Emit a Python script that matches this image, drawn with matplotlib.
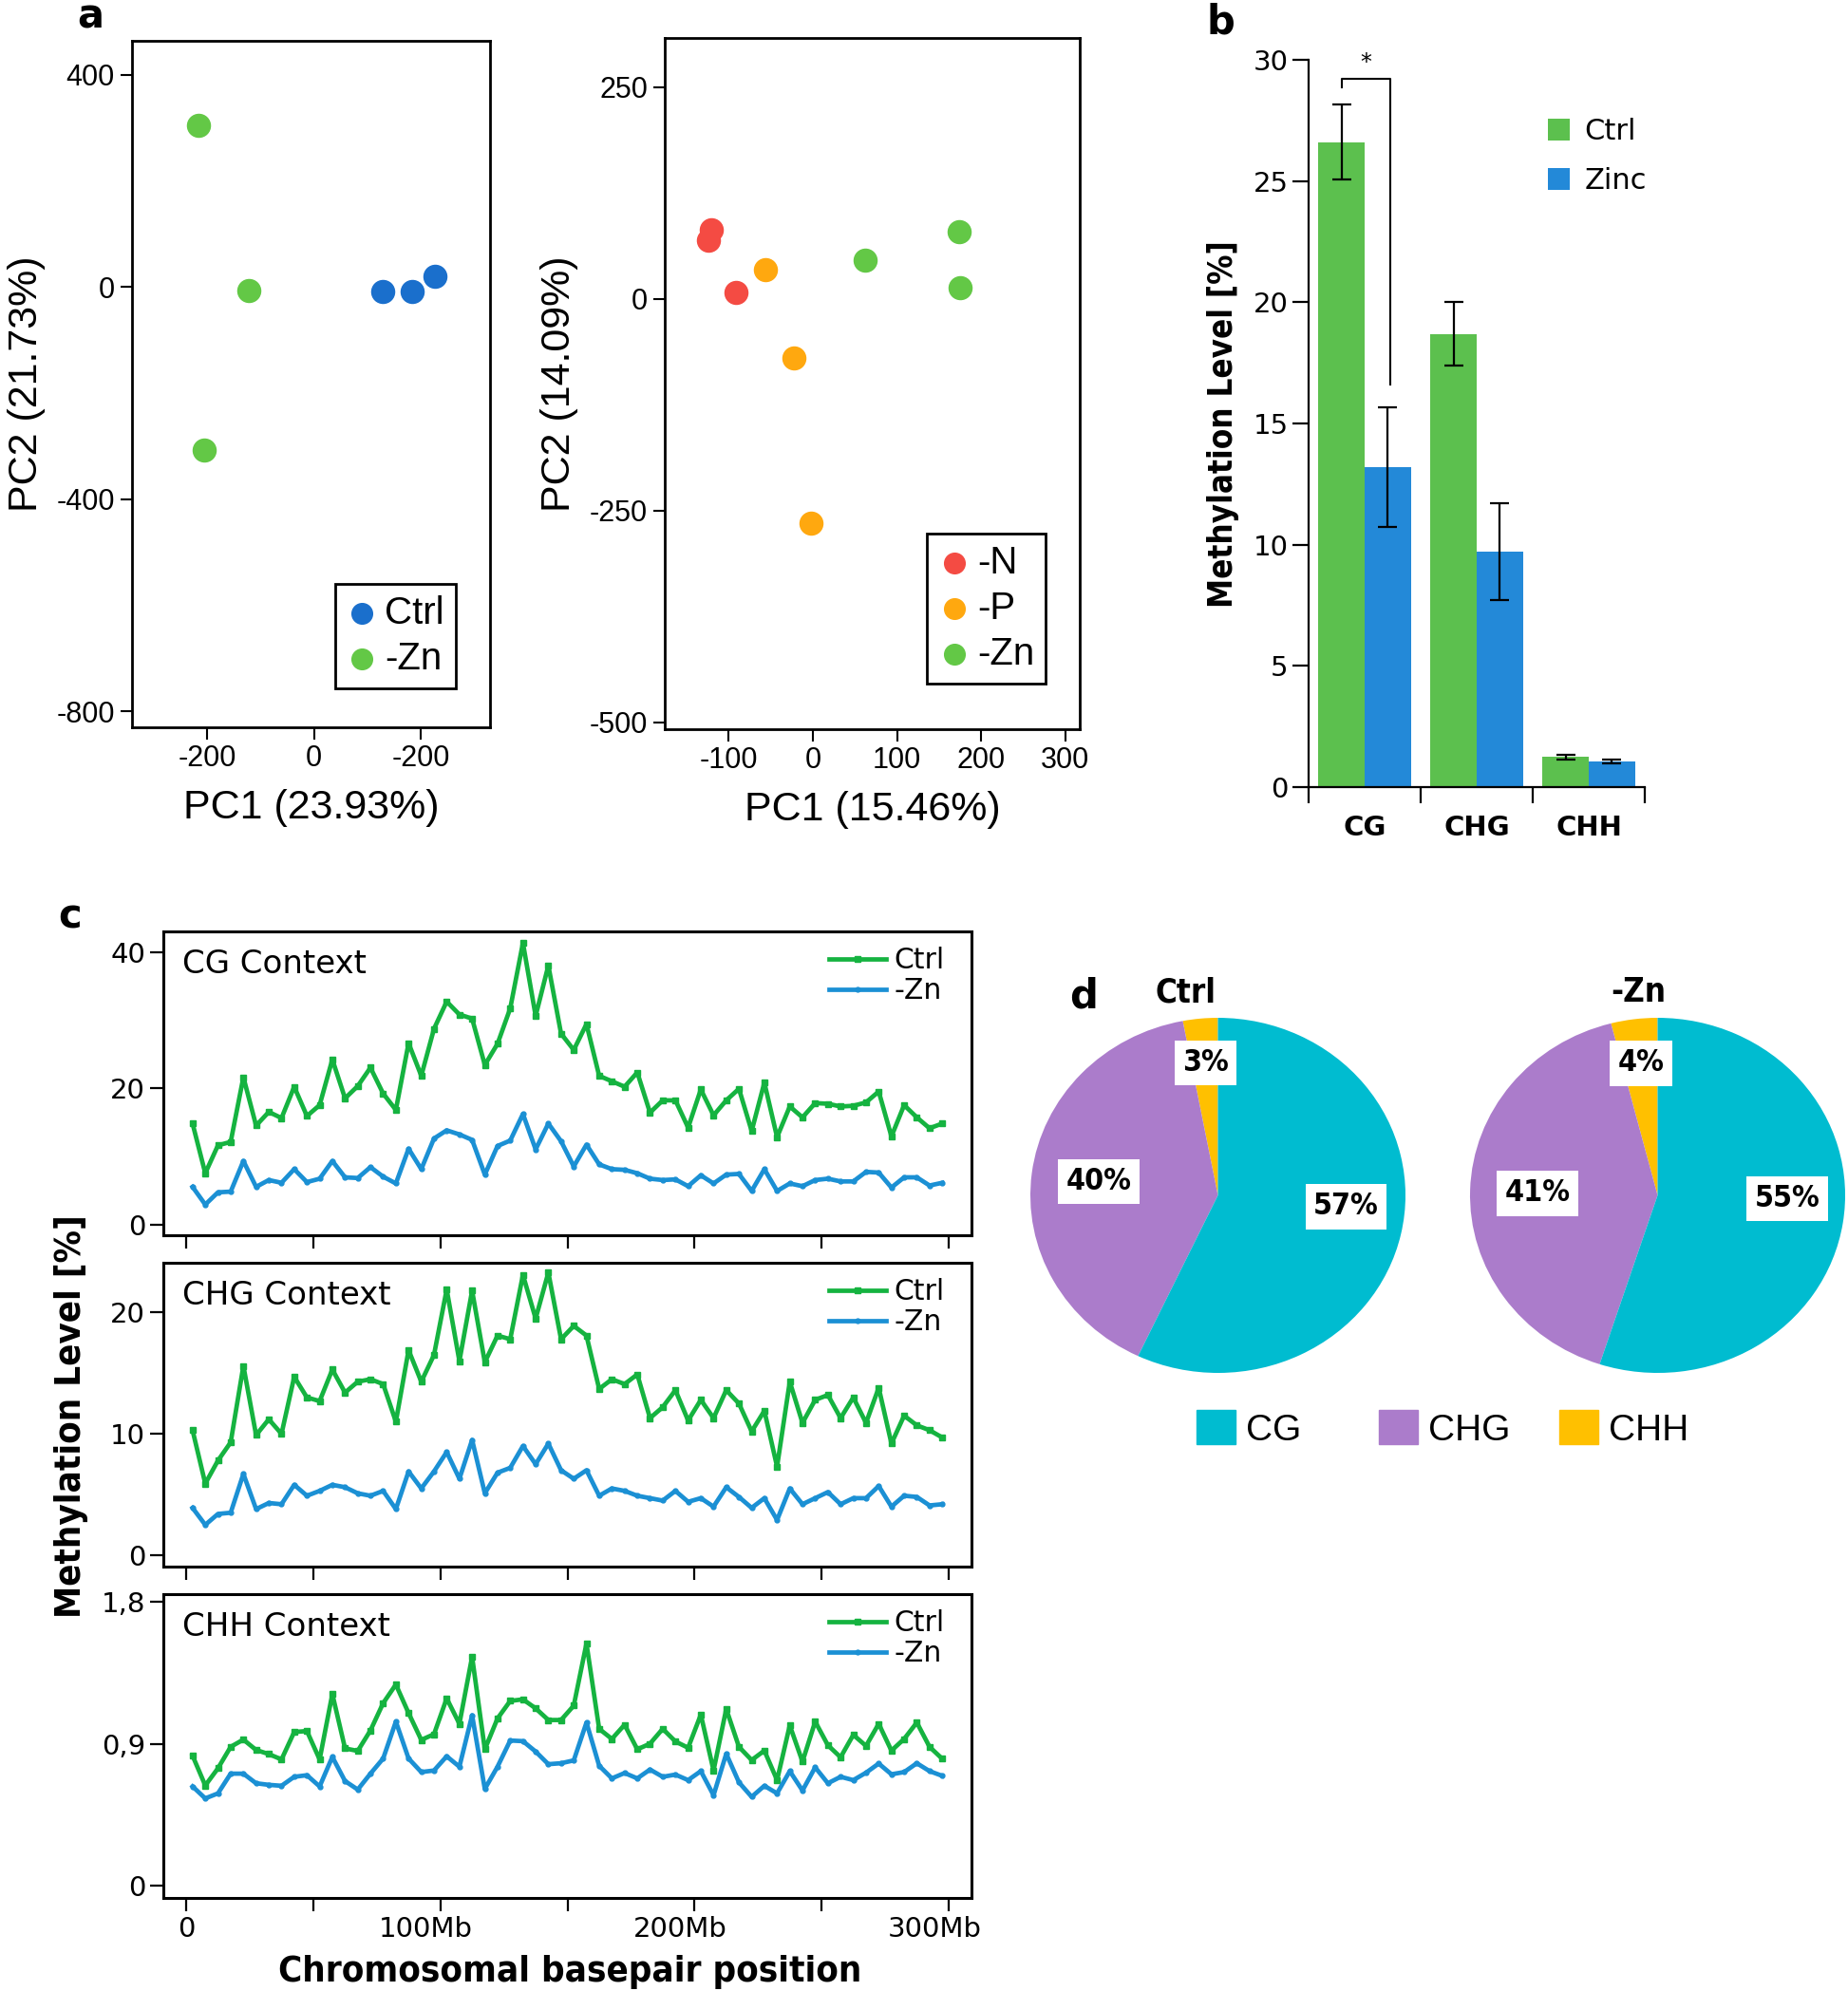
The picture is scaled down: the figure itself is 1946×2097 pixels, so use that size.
import numpy as np
import matplotlib
matplotlib.use("Agg")
import matplotlib.pyplot as plt
from matplotlib.patches import Patch
from matplotlib.transforms import ScaledTranslation

plt.rcParams["axes.unicode_minus"] = False

# ---- panel a: PCA scores ----
pca1_ctrl_x = [128, 184, 226]
pca1_ctrl_y = [-9, -9, 20]
pca1_zn_x = [-216, -122, -206]
pca1_zn_y = [304, -6, -308]

pca2_n_x = [-121, -124, -91]
pca2_n_y = [82, 69, 8]
pca2_p_x = [-56, -23, -2]
pca2_p_y = [34, -70, -265]
pca2_zn_x = [62, 174, 175]
pca2_zn_y = [46, 79, 13]

# ---- panel b: global methylation ----
contexts = ["CG", "CHG", "CHH"]
bar_ctrl = [26.6, 18.7, 1.25]
bar_ctrl_err = [1.55, 1.3, 0.1]
bar_zinc = [13.2, 9.7, 1.05]
bar_zinc_err = [2.45, 2.0, 0.08]

# ---- panel c: methylation along chromosome (5 Mb bins) ----
bin_mb = np.arange(2.5, 300, 5)
cg_ctrl = [14.8, 7.5, 11.6, 12.1, 21.6, 14.5, 16.5, 15.6, 20.2, 15.9,
           17.5, 24.2, 18.5, 20.3, 23.0, 19.2, 16.8, 26.6, 21.8, 28.7,
           32.7, 30.8, 30.2, 23.4, 26.5, 31.7, 41.3, 30.6, 38.0, 28.0,
           25.6, 29.4, 21.8, 21.0, 20.2, 22.3, 16.4, 18.2, 18.2, 14.2,
           19.8, 16.0, 18.2, 19.9, 13.7, 20.8, 12.8, 17.3, 15.7, 17.8,
           17.7, 17.3, 17.4, 17.9, 19.5, 12.9, 17.5, 15.7, 14.1, 14.8]
cg_zn = [5.5, 2.9, 4.7, 4.8, 9.3, 5.5, 6.5, 6.1, 8.1, 6.2,
         6.7, 9.3, 6.9, 6.8, 8.4, 7.0, 6.0, 11.1, 8.1, 12.6,
         13.8, 13.2, 12.4, 7.3, 11.5, 12.3, 16.2, 11.0, 14.8, 12.2,
         8.5, 11.7, 8.8, 8.1, 8.0, 7.5, 6.7, 6.5, 6.6, 5.6,
         7.2, 6.0, 7.3, 7.4, 4.9, 8.1, 4.9, 6.0, 5.6, 6.5,
         6.7, 6.3, 6.3, 7.7, 7.6, 5.4, 6.9, 6.9, 5.7, 6.1]
chg_ctrl = [10.3, 5.9, 7.8, 9.3, 15.6, 9.9, 11.2, 10.0, 14.7, 13.0,
            12.7, 15.3, 13.4, 14.3, 14.5, 14.1, 11.0, 16.9, 14.3, 16.5,
            21.9, 16.0, 21.8, 15.9, 18.1, 17.8, 23.1, 19.5, 23.3, 17.8,
            18.9, 18.1, 13.7, 14.5, 14.1, 14.9, 11.3, 12.2, 13.6, 11.1,
            12.8, 11.3, 13.6, 12.5, 10.2, 11.9, 7.3, 14.3, 10.9, 12.8,
            13.2, 11.3, 13.0, 10.9, 13.8, 9.2, 11.5, 10.7, 10.3, 9.7]
chg_zn = [3.9, 2.5, 3.4, 3.5, 6.7, 3.8, 4.3, 4.2, 5.8, 4.9,
          5.3, 5.8, 5.6, 5.1, 4.9, 5.3, 3.8, 6.9, 5.5, 6.9,
          8.5, 6.3, 9.5, 5.1, 6.8, 7.2, 9.0, 7.5, 9.2, 7.0,
          6.3, 7.0, 4.9, 5.5, 5.3, 4.9, 4.7, 4.5, 5.3, 4.4,
          4.7, 4.0, 5.6, 4.8, 3.9, 4.7, 2.9, 5.5, 4.2, 4.7,
          5.2, 4.2, 4.7, 4.7, 5.7, 4.0, 4.9, 4.8, 4.1, 4.2]
chh_ctrl = [0.826, 0.637, 0.746, 0.882, 0.928, 0.862, 0.836, 0.802, 0.976, 0.982,
            0.802, 1.217, 0.872, 0.856, 0.986, 1.159, 1.277, 1.096, 0.926, 0.962,
            1.189, 1.028, 1.453, 0.866, 1.062, 1.173, 1.183, 1.126, 1.052, 1.052,
            1.143, 1.537, 0.996, 0.932, 1.022, 0.866, 0.902, 0.996, 0.916, 0.876,
            1.086, 0.732, 1.122, 0.882, 0.798, 0.858, 0.671, 1.018, 0.788, 1.042,
            0.892, 0.816, 0.958, 0.888, 1.028, 0.858, 0.932, 1.036, 0.882, 0.806]
chh_zn = [0.631, 0.555, 0.587, 0.712, 0.712, 0.651, 0.641, 0.635, 0.692, 0.702,
          0.631, 0.818, 0.665, 0.611, 0.712, 0.808, 1.042, 0.808, 0.722, 0.732,
          0.822, 0.756, 1.082, 0.615, 0.756, 0.922, 0.918, 0.852, 0.772, 0.778,
          0.796, 1.036, 0.762, 0.682, 0.716, 0.682, 0.738, 0.692, 0.706, 0.671,
          0.728, 0.575, 0.838, 0.657, 0.565, 0.635, 0.587, 0.728, 0.605, 0.752,
          0.651, 0.692, 0.671, 0.718, 0.776, 0.708, 0.722, 0.778, 0.728, 0.698]

# ---- panel d: context share ----
pie_labels = ["CHH", "CHG", "CG"]
pie_ctrl = [3, 40, 57]
pie_zn = [4, 41, 55]

W, H = 1946, 2097
fig = plt.figure(figsize=(W / 100, H / 100), dpi=100)


def box(x0, y0, x1, y1):
    return [x0 / W, 1 - y1 / H, (x1 - x0) / W, (y1 - y0) / H]


SANS = "Liberation Sans"
COND = dict(family="DejaVu Sans", stretch="condensed", weight="bold")
c_blue, c_green, c_red, c_orange = "#1a6fcc", "#63c846", "#f44b43", "#ffa80f"


def pca_axes(ax):
    for s in ax.spines.values():
        s.set_linewidth(2)
    ax.tick_params(length=9, width=1.5, labelsize=22, pad=4)
    for lab in ax.get_xticklabels() + ax.get_yticklabels():
        lab.set_family(SANS)


def pca_legend(ax, anchor):
    leg = ax.legend(loc="lower right", bbox_to_anchor=anchor, fancybox=False,
                    edgecolor="black", framealpha=1, prop={"family": SANS, "size": 29},
                    handlelength=0.8, handletextpad=0.2, borderpad=0.3,
                    labelspacing=0.25, markerscale=0.9, borderaxespad=0)
    leg.get_frame().set_linewidth(2)


# a, left
ax = fig.add_axes(box(139, 43, 516, 766))
ax.scatter(pca1_ctrl_x, pca1_ctrl_y, s=300, color=c_blue, label="Ctrl", zorder=3)
ax.scatter(pca1_zn_x, pca1_zn_y, s=300, color=c_green, label="-Zn", zorder=3)
ax.set_xlim(-341, 330)
ax.set_ylim(-830, 464)
ax.set_xticks([-200, 0, 200], ["-200", "0", "-200"])
ax.set_yticks([400, 0, -400, -800])
pca_axes(ax)
ax.set_xlabel("PC1 (23.93%)", family=SANS, fontsize=31, labelpad=12)
ax.set_ylabel("PC2 (21.73%)", family=SANS, fontsize=31, labelpad=8)
pca_legend(ax, (0.905, 0.057))

# a, right
ax = fig.add_axes(box(700, 40, 1137, 768))
ax.scatter(pca2_n_x, pca2_n_y, s=300, color=c_red, label="-N", zorder=3)
ax.scatter(pca2_p_x, pca2_p_y, s=300, color=c_orange, label="-P", zorder=3)
ax.scatter(pca2_zn_x, pca2_zn_y, s=300, color=c_green, label="-Zn", zorder=3)
ax.set_xlim(-176, 317)
ax.set_ylim(-508, 308)
ax.set_xticks([-100, 0, 100, 200, 300])
ax.set_yticks([250, 0, -250, -500])
pca_axes(ax)
ax.set_xlabel("PC1 (15.46%)", family=SANS, fontsize=31, labelpad=12)
ax.set_ylabel("PC2 (14.09%)", family=SANS, fontsize=31, labelpad=8)
pca_legend(ax, (0.918, 0.066))

# b
ax = fig.add_axes(box(1378, 63, 1732, 829))
xpos = np.arange(len(contexts))
bw = 0.413
ekw = dict(elinewidth=1.6, capthick=1.6, ecolor="black")
ax.bar(xpos - bw / 2, bar_ctrl, bw, yerr=bar_ctrl_err, capsize=7, error_kw=ekw,
       color="#5cc04e", label="Ctrl")
ax.bar(xpos + bw / 2, bar_zinc, bw, yerr=bar_zinc_err, capsize=7, error_kw=ekw,
       color="#2389d8", label="Zinc")
ax.set_xlim(-0.5, 2.5)
ax.set_ylim(0, 30)
ax.spines[["top", "right"]].set_visible(False)
ax.spines[["left", "bottom"]].set_linewidth(1.6)
ax.set_xticks([-0.5, 0.5, 1.5, 2.5], [])
ax.set_xticks(xpos, contexts, minor=True)
ax.tick_params(axis="x", which="major", length=12, width=1.6)
ax.tick_params(axis="x", which="minor", length=0, pad=21, labelsize=21)
for lab in ax.get_xticklabels(minor=True):
    lab.set_fontweight("bold")
ax.set_yticks(range(0, 31, 5))
ax.tick_params(axis="y", length=12, width=1.6, labelsize=21)
# significance bracket
bx0, bx1 = -bw / 2, bw / 2 + 0.02
ax.plot([bx0, bx0, bx1, bx1], [28.85, 29.2, 29.2, 16.6], color="black", lw=1.5)
ax.text((bx0 + bx1) / 2, 29.4, "*", ha="center", va="bottom", fontsize=17)
ax.legend(loc="upper left", bbox_to_anchor=(0.67, 0.94), frameon=False, fontsize=22,
          handlelength=0.75, handleheight=0.75, handletextpad=0.5, labelspacing=0.75,
          borderpad=0)
fig.text(1288 / W, 1 - 447 / H, "Methylation Level [%]", rotation=90, ha="center",
         va="center", fontsize=25, **COND)

# c
g_line, b_line = "#15b340", "#1b90d4"
c_panels = [
    ("CG Context", cg_ctrl, cg_zn, (-1.6, 43.0), [0, 20, 40], ["0", "20", "40"], (981, 1301)),
    ("CHG Context", chg_ctrl, chg_zn, (-0.94, 24.1), [0, 10, 20], ["0", "10", "20"], (1330, 1650)),
    ("CHH Context", chh_ctrl, chh_zn, (-0.076, 1.85), [0, 0.9, 1.8], ["0", "0,9", "1,8"], (1679, 1999)),
]
shift_left = ScaledTranslation(-15 / 100, 0, fig.dpi_scale_trans)
for i, (title, yc, yz, ylim, yt, ytl, (top, bot)) in enumerate(c_panels):
    ax = fig.add_axes(box(172, top, 1023, bot))
    ax.plot(bin_mb, yc, color=g_line, lw=3.4, marker="s", ms=3.8, label="Ctrl")
    ax.plot(bin_mb, yz, color=b_line, lw=3.4, marker="o", ms=3.5, label="-Zn")
    ax.set_xlim(-9.0, 309)
    ax.set_ylim(*ylim)
    ax.set_yticks(yt, ytl)
    xl = ["0", "", "100Mb", "", "200Mb", "", "300Mb"] if i == 2 else [""] * 7
    ax.set_xticks(range(0, 301, 50), xl)
    ax.tick_params(length=10, width=1.6, labelsize=21)
    if i == 2:
        for lab in ax.get_xticklabels()[1:]:
            lab.set_transform(lab.get_transform() + shift_left)
    for s in ax.spines.values():
        s.set_linewidth(2.2)
    ax.text(0.0235, 0.945, title, transform=ax.transAxes, ha="left", va="top",
            fontsize=24.5)
    ax.legend(loc="upper right", bbox_to_anchor=(0.967, 0.95), frameon=False,
              fontsize=21.5, handlelength=2.0, handletextpad=0.3, labelspacing=0.1,
              borderpad=0, borderaxespad=0)
fig.text(75 / W, 1 - 1492 / H, "Methylation Level [%]", rotation=90, ha="center",
         va="center", fontsize=27.5, **COND)
fig.text(600 / W, 1 - 2077 / H, "Chromosomal basepair position", ha="center",
         va="center", fontsize=27.5, **COND)

# d
pie_colors = ["#ffc000", "#ab7ccb", "#00bcd0"]
label_nudge = [(0, 0.05), (0.06, -0.01), (0, 0.09)]
for vals, title, (x0, x1), tx in [(pie_ctrl, "Ctrl", (1085, 1480), 1249),
                                  (pie_zn, "-Zn", (1548, 1943), 1725)]:
    ax = fig.add_axes(box(x0, 1072, x1, 1446))
    wedges, _, autotexts = ax.pie(vals, colors=pie_colors, startangle=90, counterclock=True,
                                  autopct=lambda p: f"{p:.0f}%", pctdistance=0.7,
                                  wedgeprops=dict(linewidth=0))
    for t, (dx, dy) in zip(autotexts, label_nudge):
        px, py = t.get_position()
        t.set_position((px + dx, py + dy))
        t.set_fontsize(23)
        t.set(**COND)
        t.set_bbox(dict(facecolor="white", edgecolor="none", pad=6))
    ax.set_aspect("auto")
    ax.set_xlim(-1, 1)
    ax.set_ylim(-1, 1)
    fig.text(tx / W, 1 - 1045 / H, title, ha="center", va="center", fontsize=25, **COND)

for lab, col, lx in zip(pie_labels, pie_colors, [1642, 1452, 1260]):
    fig.legend([Patch(color=col)], [lab], loc="center left", bbox_to_anchor=(lx / W, 1 - 1505 / H),
               frameon=False, prop={"family": SANS, "size": 28},
               handlelength=1.05, handleheight=1.05, handletextpad=0.3, borderpad=0,
               borderaxespad=0)

# panel letters
for letter, (lx, ly) in {"a": (95, 17), "b": (1285, 23), "c": (74, 966), "d": (1141, 1049)}.items():
    fig.text(lx / W, 1 - ly / H, letter, ha="center", va="center", fontsize=30,
             fontweight="bold")

fig.savefig("out.png", dpi=100)
